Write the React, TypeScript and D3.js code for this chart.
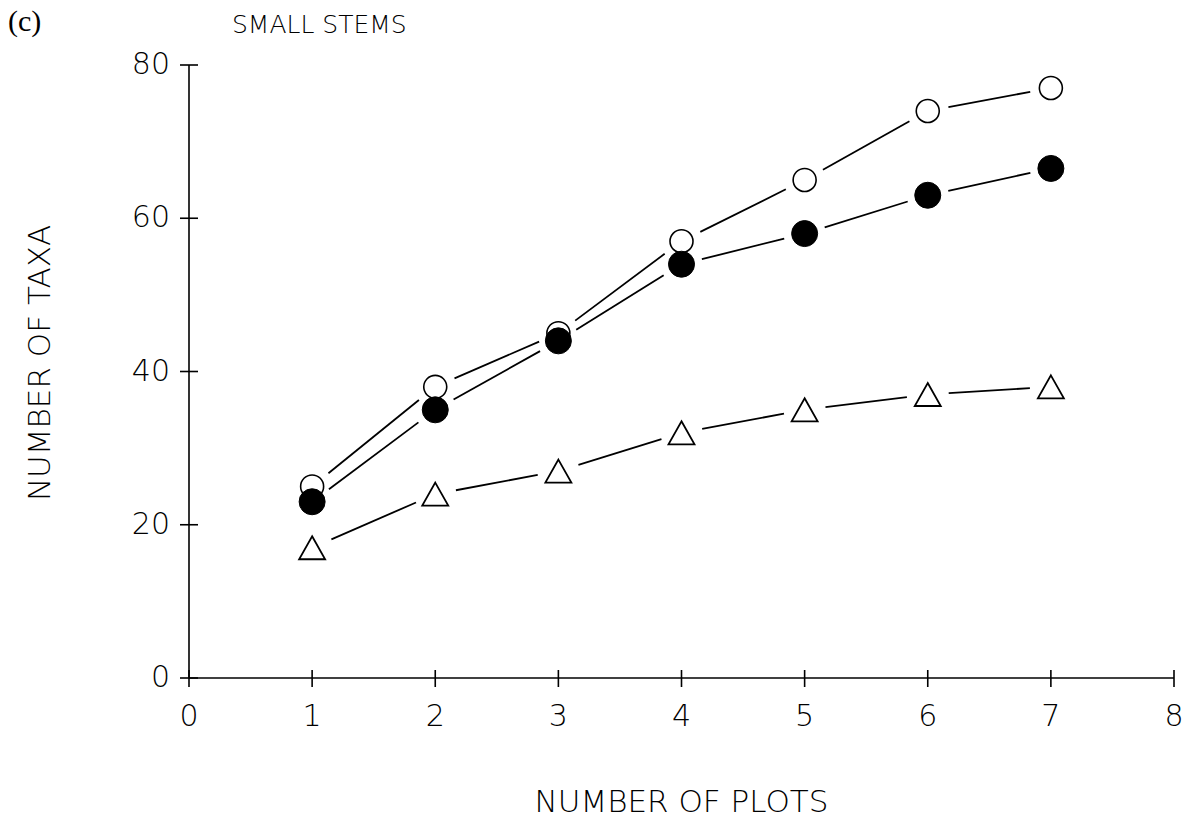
import React from "react";
import * as d3 from "d3";

const plots = [1, 2, 3, 4, 5, 6, 7];
const openCircle = [25, 38, 45, 57, 65, 74, 77];
const filledCircle = [23, 35, 44, 54, 58, 63, 66.5];
const triangle = [17, 24, 27, 32, 35, 37, 38];
const xTicks = [0, 1, 2, 3, 4, 5, 6, 7, 8];
const yTicks = [0, 20, 40, 60, 80];

const W = 1196;
const H = 820;
const FONT = "'DejaVu Sans', sans-serif";

export default function App() {
  const x = d3.scaleLinear().domain([0, 8]).range([189, 1174]);
  const y = d3.scaleLinear().domain([0, 80]).range([678, 65]);
  const gap = 21;

  const segments = (vals: number[]) => {
    const out: { x1: number; y1: number; x2: number; y2: number }[] = [];
    for (let i = 0; i < vals.length - 1; i++) {
      const ax = x(plots[i]), ay = y(vals[i]);
      const bx = x(plots[i + 1]), by = y(vals[i + 1]);
      const dx = bx - ax, dy = by - ay;
      const len = Math.hypot(dx, dy);
      const ux = dx / len, uy = dy / len;
      out.push({ x1: ax + ux * gap, y1: ay + uy * gap, x2: bx - ux * gap, y2: by - uy * gap });
    }
    return out;
  };

  const tri = (cx: number, cy: number) => {
    const w = 13, h = 11.5;
    return `M${cx},${cy - h}L${cx + w},${cy + h}L${cx - w},${cy + h}Z`;
  };

  const series = [openCircle, filledCircle, triangle];

  return (
    <svg width={W} height={H} style={{ position: "absolute", left: 0, top: 0, background: "#fff" }}>
      <rect width={W} height={H} fill="#fff" />
      {/* axes */}
      <line x1={x(0)} x2={x(8)} y1={y(0)} y2={y(0)} stroke="#000" strokeWidth={1.6} />
      <line x1={x(0)} x2={x(0)} y1={y(0)} y2={y(80)} stroke="#000" strokeWidth={1.6} />
      {xTicks.map((t) => (
        <g key={"xt" + t}>
          <line x1={x(t)} x2={x(t)} y1={y(0) - 8} y2={y(0) + 9} stroke="#000" strokeWidth={1.6} />
          <text x={x(t)} y={y(0) + 48} textAnchor="middle" fontFamily={FONT} fontWeight={200} fontSize={30} fill="#000">
            {t}
          </text>
        </g>
      ))}
      {yTicks.map((t) => (
        <g key={"yt" + t}>
          <line x1={x(0) - 9} x2={x(0) + 9} y1={y(t)} y2={y(t)} stroke="#000" strokeWidth={1.6} />
          <text x={x(0) - 19} y={y(t) + 9} textAnchor="end" fontFamily={FONT} fontWeight={200} fontSize={30} fill="#000">
            {t}
          </text>
        </g>
      ))}
      {/* lines */}
      {series.map((vals, si) =>
        segments(vals).map((sg, i) => (
          <line key={"s" + si + "-" + i} x1={sg.x1} y1={sg.y1} x2={sg.x2} y2={sg.y2} stroke="#000" strokeWidth={1.8} />
        ))
      )}
      {/* markers */}
      {openCircle.map((v, i) => (
        <circle key={"o" + i} cx={x(plots[i])} cy={y(v)} r={11.5} fill="#fff" stroke="#000" strokeWidth={1.6} />
      ))}
      {filledCircle.map((v, i) => (
        <circle key={"f" + i} cx={x(plots[i])} cy={y(v)} r={13} fill="#000" stroke="#000" strokeWidth={1} />
      ))}
      {triangle.map((v, i) => (
        <path key={"t" + i} d={tri(x(plots[i]), y(v))} fill="#fff" stroke="#000" strokeWidth={1.8} strokeLinejoin="miter" />
      ))}
      {/* titles */}
      <text x={8} y={31} fontFamily="'Liberation Serif', serif" fontWeight={400} fontSize={30} fill="#000">(c)</text>
      <text x={232} y={33} fontFamily={FONT} fontWeight={200} fontSize={25} fill="#000">SMALL STEMS</text>
      <text
        transform={`translate(50, 363) rotate(-90)`}
        textAnchor="middle"
        fontFamily={FONT}
        fontWeight={200}
        fontSize={31}
        fill="#000"
      >
        NUMBER OF TAXA
      </text>
      <text x={x(4)} y={812} textAnchor="middle" fontFamily={FONT} fontWeight={200} fontSize={31} fill="#000">
        NUMBER OF PLOTS
      </text>
    </svg>
  );
}
